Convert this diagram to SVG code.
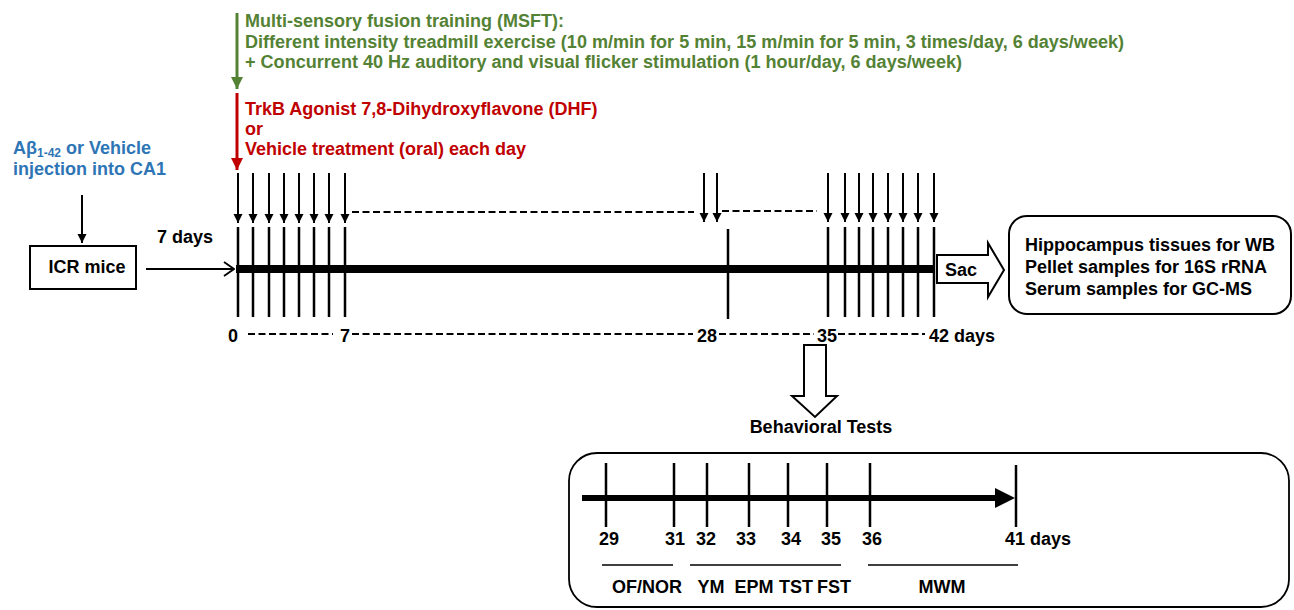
<svg xmlns="http://www.w3.org/2000/svg" width="1294" height="610" viewBox="0 0 1294 610">
<defs>
<style>
text{font-family:"Liberation Sans",Arial,sans-serif;font-weight:bold;font-size:18px;fill:#000}
.g{fill:#548235}.r{fill:#c00000}.b{fill:#2e75b6}
.tk{stroke:#000;stroke-width:2.5;fill:none}
.ln{stroke:#000;stroke-width:2;fill:none}
.ds{stroke:#000;stroke-width:2;stroke-dasharray:7 3.5;fill:none}
.ul{stroke:#000;stroke-width:1.5;fill:none}
.box{fill:#fff;stroke:#000;stroke-width:2}
.mid{text-anchor:middle}
</style>
<marker id="ah" viewBox="0 0 10 10" refX="10" refY="5" markerWidth="4.5" markerHeight="5" orient="auto" markerUnits="strokeWidth"><path d="M0,0 L10,5 L0,10 z" fill="#000"/></marker>
<marker id="ahg" viewBox="0 0 10 10" refX="10" refY="5" markerWidth="4" markerHeight="4.5" orient="auto" markerUnits="strokeWidth"><path d="M0,0 L10,5 L0,10 z" fill="#548235"/></marker>
<marker id="ahr" viewBox="0 0 10 10" refX="10" refY="5" markerWidth="4" markerHeight="4.5" orient="auto" markerUnits="strokeWidth"><path d="M0,0 L10,5 L0,10 z" fill="#c00000"/></marker>
<marker id="open" viewBox="0 0 12 16" refX="11" refY="8" markerWidth="6" markerHeight="8" orient="auto" markerUnits="strokeWidth"><path d="M1,1 L11,8 L1,15" fill="none" stroke="#000" stroke-width="1.8"/></marker>
</defs>

<g id="msft">
<line x1="237" y1="13" x2="237" y2="89" stroke="#548235" stroke-width="3" marker-end="url(#ahg)"/>
<text class="g" x="245" y="27">Multi-sensory fusion training (MSFT):</text>
<text class="g" x="245" y="48" textLength="879" lengthAdjust="spacingAndGlyphs">Different intensity treadmill exercise (10 m/min for 5 min, 15 m/min for 5 min, 3 times/day, 6 days/week)</text>
<text class="g" x="245" y="68" textLength="717" lengthAdjust="spacingAndGlyphs">+ Concurrent 40 Hz auditory and visual flicker stimulation (1 hour/day, 6 days/week)</text>
</g>

<g id="dhf">
<line x1="237" y1="93" x2="237" y2="170" stroke="#c00000" stroke-width="3" marker-end="url(#ahr)"/>
<text class="r" x="245" y="115">TrkB Agonist 7,8-Dihydroxyflavone (DHF)</text>
<text class="r" x="245" y="135">or</text>
<text class="r" x="245" y="155">Vehicle treatment (oral) each day</text>
</g>

<g id="injection">
<text class="b" x="13" y="154">Aβ<tspan font-size="12" dy="3">1-42</tspan><tspan dy="-3"> or Vehicle</tspan></text>
<text class="b" x="13" y="175">injection into CA1</text>
</g>

<g id="icr">
<rect class="box" x="30" y="246" width="106" height="43"/>
<text class="mid" x="87" y="273">ICR mice</text>
</g>

<g id="timeline">
<rect x="236" y="265" width="699" height="8" fill="#000"/>
<g class="tk">
<path d="M238,227V317M253,227V317M269,227V317M284,227V317M299,227V317M314,227V317M329,227V317M345,227V317"/>
<path d="M728,229V319"/>
<path d="M828,227V317M845,227V317M859,227V317M873,227V317M888,227V317M903,227V317M918,227V317M934,227V317"/>
</g>
<text x="233" y="342" class="mid">0</text>
<text x="345" y="342" class="mid">7</text>
<text x="707" y="342" class="mid">28</text>
<text x="827" y="342" class="mid">35</text>
<text x="929" y="342">42 days</text>
<text x="157" y="243">7 days</text>
</g>

<g id="sac">
<polygon class="box" stroke-width="1.5" points="937,255 988,255 988,243 1004,270 988,297 988,283 937,283"/>
<text x="945" y="276">Sac</text>
</g>

<g id="samples">
<rect class="box" x="1009" y="216" width="282" height="98" rx="18" stroke-width="1.8"/>
<text x="1025" y="251">Hippocampus tissues for WB</text>
<text x="1025" y="273">Pellet samples for 16S rRNA</text>
<text x="1025" y="295">Serum samples for GC-MS</text>
</g>

<g id="behavior-arrow">
<polygon class="box" stroke-width="1.5" points="804,345 826,345 826,396 837,396 815,417 792,396 804,396"/>
<text class="mid" x="821" y="433">Behavioral Tests</text>
</g>

<g id="behavior">
<rect x="569" y="453" width="720" height="154" rx="28" fill="#fff" stroke="#000" stroke-width="1.8"/>
<line x1="582" y1="498" x2="997" y2="498" stroke="#000" stroke-width="6"/>
<polygon points="995,488 1015,498 995,508" fill="#000"/>
<path class="tk" d="M606,463V527M674,463V527M707,463V527M749,463V527M788,463V527M827,463V527M870,463V527M1016,465V527"/>
<text class="mid" x="609" y="545">29</text>
<text class="mid" x="675" y="545">31</text>
<text class="mid" x="706" y="545">32</text>
<text class="mid" x="746" y="545">33</text>
<text class="mid" x="791" y="545">34</text>
<text class="mid" x="831" y="545">35</text>
<text class="mid" x="872" y="545">36</text>
<text x="1005" y="545">41 days</text>
<path class="ul" d="M602,565H673M690,565H841M868,565H1018"/>
<text class="mid" x="647" y="593">OF/NOR</text>
<text class="mid" x="711" y="593">YM</text>
<text class="mid" x="754" y="593">EPM</text>
<text class="mid" x="796" y="593">TST</text>
<text class="mid" x="834" y="593">FST</text>
<text class="mid" x="942" y="593">MWM</text>
</g>

<g id="connectors">
<line class="ln" x1="82" y1="195" x2="82" y2="243" marker-end="url(#ah)"/>
<line class="ln" x1="146" y1="269" x2="234" y2="269" marker-end="url(#open)"/>
<g class="ln" marker-end="url(#ah)">
<line x1="238" y1="173" x2="238" y2="223"/>
<line x1="253" y1="173" x2="253" y2="223"/>
<line x1="269" y1="173" x2="269" y2="223"/>
<line x1="284" y1="173" x2="284" y2="223"/>
<line x1="299" y1="173" x2="299" y2="223"/>
<line x1="314" y1="173" x2="314" y2="223"/>
<line x1="329" y1="173" x2="329" y2="223"/>
<line x1="345" y1="173" x2="345" y2="223"/>
<line x1="704" y1="173" x2="704" y2="222"/>
<line x1="717" y1="173" x2="717" y2="222"/>
<line x1="828" y1="173" x2="828" y2="222"/>
<line x1="845" y1="173" x2="845" y2="222"/>
<line x1="859" y1="173" x2="859" y2="222"/>
<line x1="873" y1="173" x2="873" y2="222"/>
<line x1="888" y1="173" x2="888" y2="222"/>
<line x1="903" y1="173" x2="903" y2="222"/>
<line x1="918" y1="173" x2="918" y2="222"/>
<line x1="934" y1="173" x2="934" y2="222"/>
</g>
<path class="ds" d="M352,212H694M722,211H817"/>
<path class="ds" d="M248,334H333M352,334H693M719,334H814M838,334H925"/>
</g>
</svg>
